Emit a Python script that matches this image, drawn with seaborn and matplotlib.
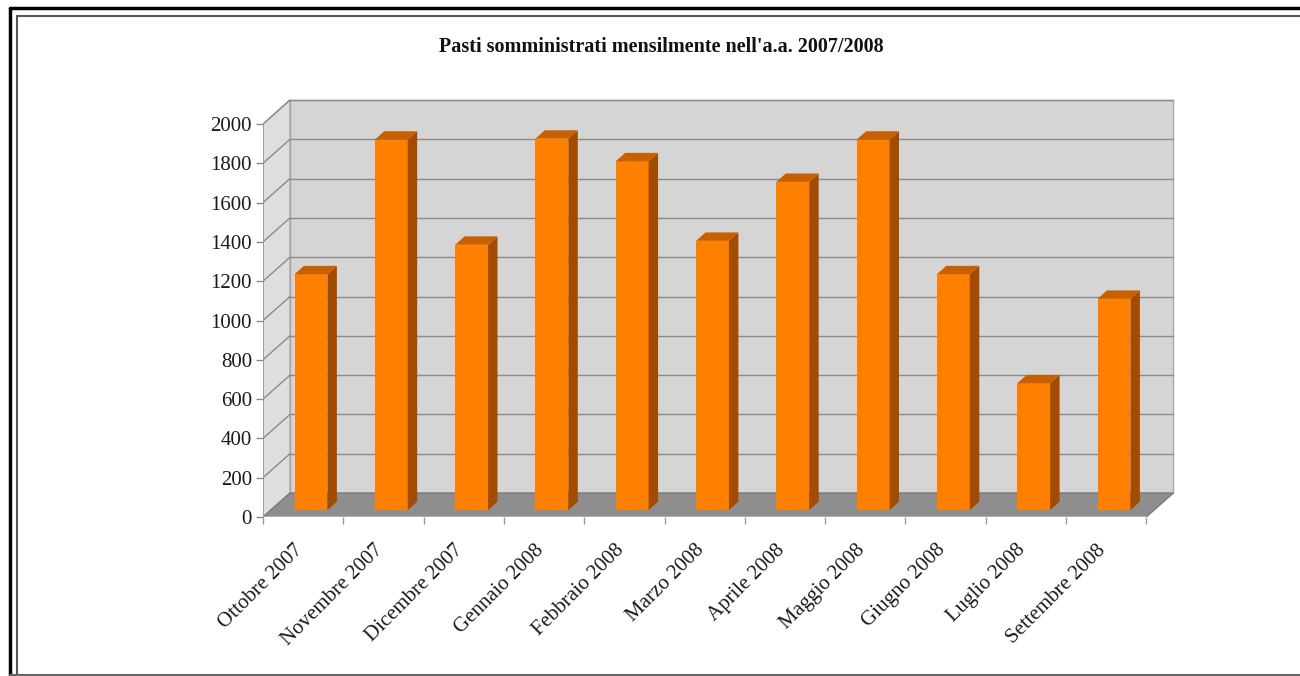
import numpy as np
import pandas as pd
import matplotlib
matplotlib.use('Agg')
import matplotlib.pyplot as plt
from matplotlib.patches import Polygon, Rectangle
from matplotlib.lines import Line2D
import matplotlib.transforms as mtransforms
import seaborn as sns

# Data
months = ['Ottobre 2007', 'Novembre 2007', 'Dicembre 2007', 'Gennaio 2008',
          'Febbraio 2008', 'Marzo 2008', 'Aprile 2008', 'Maggio 2008',
          'Giugno 2008', 'Luglio 2008', 'Settembre 2008']
pasti = [1200, 1885, 1350, 1890, 1775, 1370, 1670, 1885, 1200, 645, 1075]
y_ticks = list(range(0, 2001, 200))
title = "Pasti somministrati mensilmente nell'a.a. 2007/2008"

# Colours
front_col = '#ff7f00'
side_col = '#a34b00'
top_col = '#c96000'
wall_col = '#d5d5d5'
left_wall_col = '#dedede'
floor_col = '#8e8e8e'
grid_col = '#8a8a8a'

sns.set_theme(style='white')
plt.rcParams['font.family'] = ['Liberation Serif', 'DejaVu Serif']

fig = plt.figure(figsize=(13, 6.76), dpi=100)
ax = fig.add_axes([263 / 1300, 1 - 517 / 676, (1180 - 263) / 1300, (517 - 95) / 676])

n = len(months)
# 3D depth offset of the back wall (in data units)
dx = 0.336
dy = 122
# bars sit between these depth fractions
f0, f1 = 0.29, 0.64
bar_w = 0.41

df = pd.DataFrame({'mese': months, 'pasti': pasti})
sns.barplot(data=df, x='mese', y='pasti', color=front_col, saturation=1,
            width=bar_w, ax=ax, zorder=5)

x0, x1 = -0.5, n - 0.5
top = max(y_ticks)

# back wall
ax.add_patch(Polygon([(x0 + dx, dy), (x1 + dx, dy), (x1 + dx, top + dy), (x0 + dx, top + dy)],
                     closed=True, facecolor=wall_col, edgecolor='#a8a8a8', lw=1, zorder=0))
# left wall
ax.add_patch(Polygon([(x0, 0), (x0 + dx, dy), (x0 + dx, top + dy), (x0, top)],
                     closed=True, facecolor=left_wall_col, edgecolor='#a8a8a8', lw=1, zorder=0))
# grid lines on both walls
for v in y_ticks[1:]:
    ax.plot([x0 + dx, x1 + dx], [v + dy, v + dy], color=grid_col, lw=1, zorder=1)
    ax.plot([x0, x0 + dx], [v, v + dy], color=grid_col, lw=1, zorder=1)
# floor
ax.add_patch(Polygon([(x0, 0), (x1, 0), (x1 + dx, dy), (x0 + dx, dy)],
                     closed=True, facecolor=floor_col, edgecolor='#7a7a7a', lw=1, zorder=2))
ax.plot([x0, x1], [0, 0], color='#b0b0b0', lw=1.5, zorder=3)
# front axis line
ax.plot([x0, x0], [0, top], color='#9a9a9a', lw=1.2, zorder=3)

# turn the flat bars into boxes
ddx = (f1 - f0) * dx
ddy = (f1 - f0) * dy
for p in ax.patches:
    if not isinstance(p, Rectangle):
        continue
    h = p.get_height()
    xl = p.get_x() + f0 * dx
    yb = f0 * dy
    p.set_x(xl)
    p.set_y(yb)
    p.set_edgecolor('none')
    xr = xl + p.get_width()
    ax.add_patch(Polygon([(xr, yb), (xr + ddx, yb + ddy), (xr + ddx, yb + ddy + h), (xr, yb + h)],
                         closed=True, facecolor=side_col, edgecolor='none', zorder=5))
    ax.add_patch(Polygon([(xl, yb + h), (xr, yb + h), (xr + ddx, yb + ddy + h), (xl + ddx, yb + ddy + h)],
                         closed=True, facecolor=top_col, edgecolor='none', zorder=5))

ax.set_xlim(x0, x0 + (1180 - 263) / 80.3)
ax.set_ylim(0, (517 - 95) / 0.1965)
for s in ax.spines.values():
    s.set_visible(False)

ax.set_yticks(y_ticks)
ax.set_yticklabels([str(v) for v in y_ticks], fontsize=15, color='#1a1a1a')
ax.tick_params(axis='y', which='major', left=True, length=5, width=1, color='#8a8a8a', pad=3)

ax.set_xticks(range(n))
ax.set_xticklabels(months, rotation=45, ha='right', rotation_mode='anchor',
                   fontsize=15, color='#1a1a1a')
ax.tick_params(axis='x', which='major', bottom=False, length=0, pad=17)
ax.set_xticks(np.arange(n + 1) - 0.5, minor=True)
ax.tick_params(axis='x', which='minor', bottom=True, length=5, width=1, color='#9a9a9a')
offset = mtransforms.ScaledTranslation(-0.10, 0, fig.dpi_scale_trans)
for lab in ax.get_xticklabels():
    lab.set_transform(lab.get_transform() + offset)
ax.set_xlabel('')
ax.set_ylabel('')

fig.text(661 / 1300, 1 - 47 / 676, title, ha='center', va='center',
         fontsize=14.5, fontweight='bold', color='#111111')

# frame around the picture
fig.add_artist(Line2D([9.5 / 1300, 1], [1 - 7.5 / 676] * 2, color='black', lw=2.5))
fig.add_artist(Line2D([9.5 / 1300] * 2, [0, 1 - 7.5 / 676], color='black', lw=2.5))
fig.add_artist(Line2D([17 / 1300, 1], [1 - 16 / 676] * 2, color='#555555', lw=1.5))
fig.add_artist(Line2D([17 / 1300] * 2, [0, 1 - 16 / 676], color='#555555', lw=1.5))
fig.add_artist(Line2D([9.5 / 1300, 1], [0.6 / 676] * 2, color='#666666', lw=1.5))

fig.savefig('out.png', dpi=100)
